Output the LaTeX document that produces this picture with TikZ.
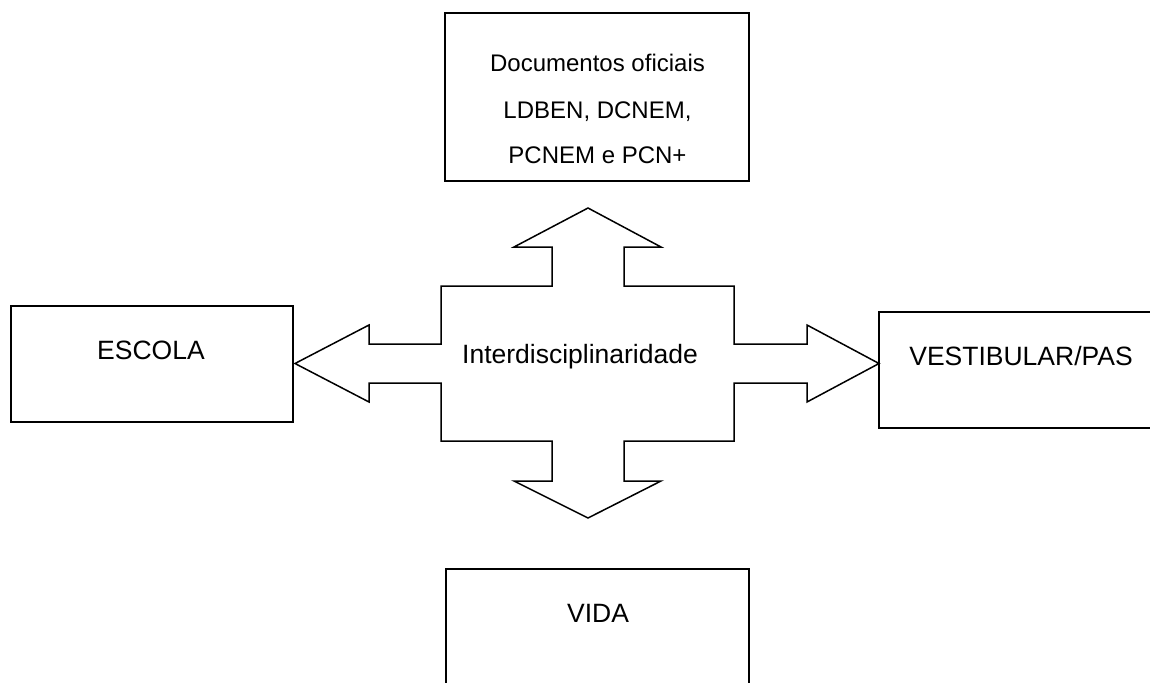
\documentclass[tikz,border=0pt]{standalone}
\usepackage{fontspec}
\setmainfont{Liberation Sans}
\begin{document}
\begin{tikzpicture}[x=1pt,y=-1pt,
  box/.style={draw=black, line width=2pt},
  lbl/.style={inner sep=0pt, anchor=base, font=\fontsize{26.5}{30}\selectfont},
  doclbl/.style={lbl, font=\fontsize{24}{30}\selectfont},
  bigarrow/.style={draw=black, line width=1.5pt, line join=miter}]
\useasboundingbox (0,0) rectangle (1150,682);
\clip (0,0) rectangle (1150,682);
\fill[white] (0,0) rectangle (1150,682);
% boxes
\draw[box] (445,13) rectangle (749,181);
\draw[box] (11,306) rectangle (293,422);
\draw[box] (879,312) rectangle (1170,428);
\draw[box] (446,700) -- (446,569) -- (749,569) -- (749,700);
% texts
\node[doclbl] (doc1) at (597.5,72) {Documentos oficiais};
\node[doclbl] (doc2) at (597.5,118) {LDBEN, DCNEM,};
\node[doclbl] (doc3) at (597.5,163) {PCNEM e PCN+};
\node[lbl] (escola) at (151,359) {ESCOLA};
\node[lbl] (vest) at (1021,365) {VESTIBULAR/PAS};
\node[lbl] (vida) at (598,622) {VIDA};
% four-way arrow
\draw[bigarrow] (588,208) -- (661,247) -- (624,247) -- (624,286) -- (734,286)
  -- (734,344) -- (807,344) -- (807,325) -- (879,363.5) -- (807,402) -- (807,383)
  -- (734,383) -- (734,441) -- (624,441) -- (624,481) -- (661,481) -- (588,518)
  -- (514,481) -- (552,481) -- (552,441) -- (441,441) -- (441,383) -- (369,383)
  -- (369,402) -- (295,363.5) -- (369,325) -- (369,344) -- (441,344) -- (441,286)
  -- (552,286) -- (552,247) -- (514,247) -- cycle;
\node[lbl] (inter) at (580,363) {Interdisciplinaridade};
\end{tikzpicture}
\end{document}
